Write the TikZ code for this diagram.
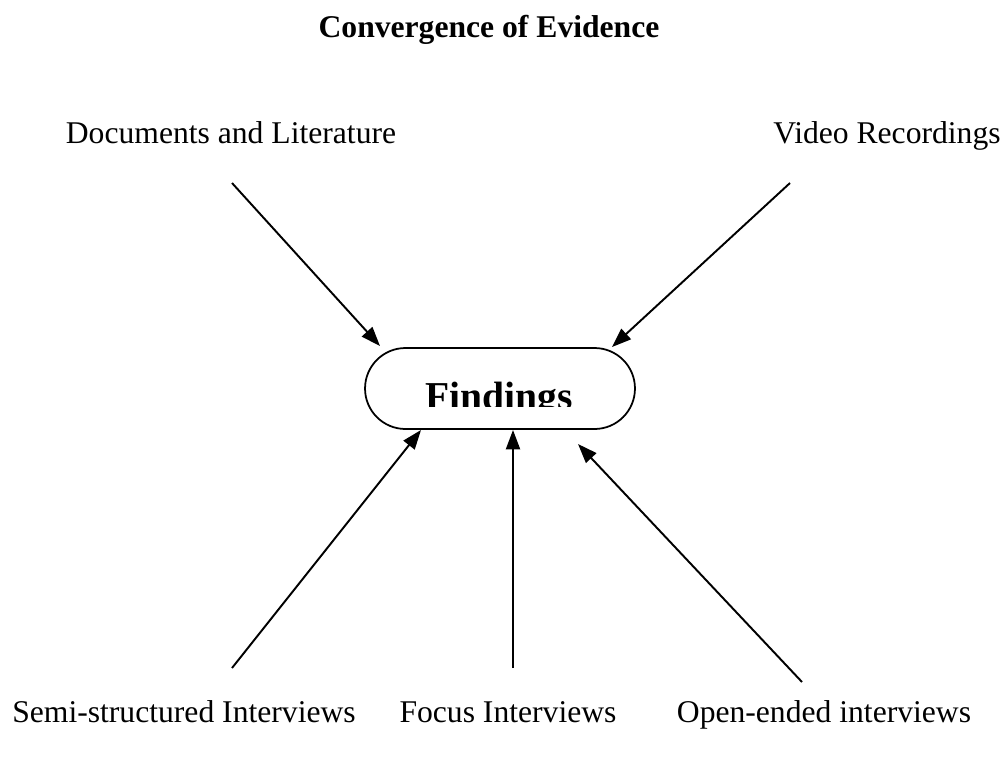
\documentclass[tikz,border=0pt]{standalone}
\usepackage{fontspec}
\setmainfont{Liberation Serif}
\usetikzlibrary{arrows.meta, shapes.misc}

\begin{document}
\begin{tikzpicture}[x=0.02cm, y=-0.02cm,
  lbl/.style={inner sep=0pt, anchor=base, font=\fontsize{18}{22}\selectfont},
  src/.style={line width=1.1pt, -{Triangle[length=11pt, width=8pt]}}]
\useasboundingbox (0,0) rectangle (1007,758);
% labels
\node[lbl, font=\fontsize{18}{22}\selectfont\bfseries] (title) at (489,37) {Convergence of Evidence};
\node[lbl] (docs) at (231,143) {Documents and Literature};
\node[lbl] (video) at (887,143) {Video Recordings};
\node[lbl] (semi) at (184,722) {Semi-structured Interviews};
\node[lbl] (focus) at (508,722) {Focus Interviews};
\node[lbl] (open) at (824,722) {Open-ended interviews};
% centre box
\node[draw, line width=1pt, rounded rectangle, inner sep=0pt, minimum width=5.4cm, minimum height=1.62cm] (find) at (500,388.5) {};
\begin{scope}
\clip (365,340) rectangle (635,406);
\node[inner sep=0pt, anchor=base, font=\fontsize{22.5}{27}\selectfont\bfseries] (findtxt) at (499,409) {Findings};
\end{scope}
% arrow ends
\coordinate (docT) at (232,183);
\coordinate (docH) at (380,346);
\coordinate (vidT) at (790,183);
\coordinate (vidH) at (612,347);
\coordinate (semT) at (232,668);
\coordinate (semH) at (421,430);
\coordinate (focT) at (513,668);
\coordinate (focH) at (513,430);
\coordinate (opeT) at (802,682);
\coordinate (opeH) at (578,444);
\draw[src] (docT) -- (docH);
\draw[src] (vidT) -- (vidH);
\draw[src] (semT) -- (semH);
\draw[src] (focT) -- (focH);
\draw[src] (opeT) -- (opeH);
\end{tikzpicture}
\end{document}
